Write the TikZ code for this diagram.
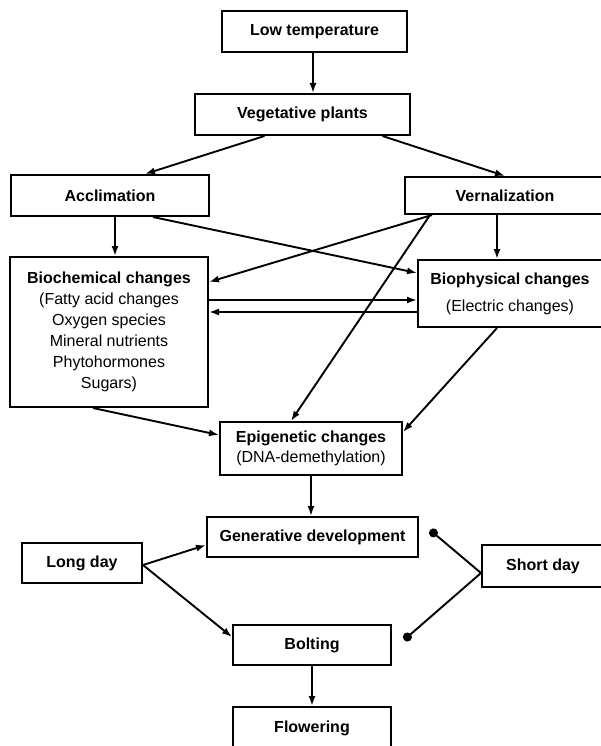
\documentclass[tikz,border=0pt]{standalone}
\usepackage{fontspec}
\setmainfont{Liberation Sans}
\usetikzlibrary{arrows.meta}
\tikzset{
  box/.style={draw, line width=2pt, rectangle, inner sep=0pt, align=center, font=\fontsize{16}{21}\selectfont},
  arr/.style={line width=1.9pt, -{Latex[length=10pt,width=7pt]}},
  dotline/.style={line width=1.9pt, -{Circle[length=9pt]}}
}
\begin{document}
\begin{tikzpicture}[x=1pt,y=-1pt]
\useasboundingbox (0,0) rectangle (600,746);
\fill[white] (0,0) rectangle (600,746);
% boxes
\node[box, minimum width=185pt, minimum height=41pt] (low) at (314.5,31.5) {\textbf{Low temperature}};
\node[box, minimum width=215pt, minimum height=41pt] (veg) at (302.5,114.5) {\textbf{Vegetative plants}};
\node[box, minimum width=198pt, minimum height=41pt] (accl) at (110,195.5) {\textbf{Acclimation}};
\node[box, minimum width=200pt, minimum height=37pt] (vern) at (505,195.5) {\textbf{Vernalization}};
\node[box, minimum width=198pt, minimum height=150pt] (bio) at (109,332) {\textbf{Biochemical changes}\\(Fatty acid changes\\Oxygen species\\Mineral nutrients\\Phytohormones\\Sugars)};
\node[box, minimum width=184pt, minimum height=67pt, font=\fontsize{16}{27}\selectfont] (phys) at (510,293.5) {\textbf{Biophysical changes}\\(Electric changes)};
\node[box, minimum width=182pt, minimum height=53pt, font=\fontsize{16}{20}\selectfont] (epi) at (311,448.5) {\textbf{Epigenetic changes}\\(DNA-demethylation)};
\node[box, minimum width=211pt, minimum height=40pt] (gen) at (312.5,537) {\textbf{Generative development}};
\node[box, minimum width=120pt, minimum height=40pt] (long) at (82,563) {\textbf{Long day}};
\node[box, minimum width=122pt, minimum height=42pt] (short) at (543,566) {\textbf{Short day}};
\node[box, minimum width=158pt, minimum height=40pt] (bolt) at (312,645) {\textbf{Bolting}};
\node[box, minimum width=158pt, minimum height=42pt] (flow) at (312,728) {\textbf{Flowering}};
\coordinate (d1) at (430,530);
\coordinate (d2) at (404,640);
% connectors
\draw[arr] ([xshift=-1.5pt]low.south) -- ([xshift=-1.5pt]low.south |- veg.north);
\draw[arr] ([xshift=-38pt]veg.south) -- ([xshift=35pt]accl.north);
\draw[arr] ([xshift=80pt]veg.south) -- (vern.north);
\draw[arr] ([xshift=5pt]accl.south) -- ([xshift=5pt]accl.south |- bio.north);
\draw[arr] ([xshift=-8pt]vern.south) -- ([xshift=-8pt]vern.south |- phys.north);
\draw[arr] ([xshift=43pt]accl.south) -- ([yshift=20.5pt]phys.west);
\draw[arr] ([xshift=-73pt]vern.south) -- ([yshift=50pt]bio.east);
\draw[arr] ([xshift=-75pt]vern.south) -- ([xshift=-20pt]epi.north);
\draw[arr] ([yshift=32pt]bio.east) -- ([yshift=32pt]bio.east -| phys.west);
\draw[arr] ([yshift=-18.5pt]phys.west) -- ([yshift=-18.5pt]phys.west -| bio.east);
\draw[arr] ([xshift=-16pt]bio.south) -- ([yshift=13.5pt]epi.west);
\draw[arr] ([xshift=-13pt]phys.south) -- ([yshift=16.5pt]epi.east);
\draw[arr] (epi.south) -- (epi.south |- gen.north);
\draw[arr] ([yshift=-2pt]long.east) -- ([yshift=-8pt]gen.west);
\draw[arr] ([yshift=-2pt]long.east) -- ([yshift=8pt]bolt.west);
\draw[dotline] ([yshift=-7pt]short.west) -- (d1);
\draw[dotline] ([yshift=-7pt]short.west) -- (d2);
\draw[arr] (bolt.south) -- (bolt.south |- flow.north);
\end{tikzpicture}
\end{document}
